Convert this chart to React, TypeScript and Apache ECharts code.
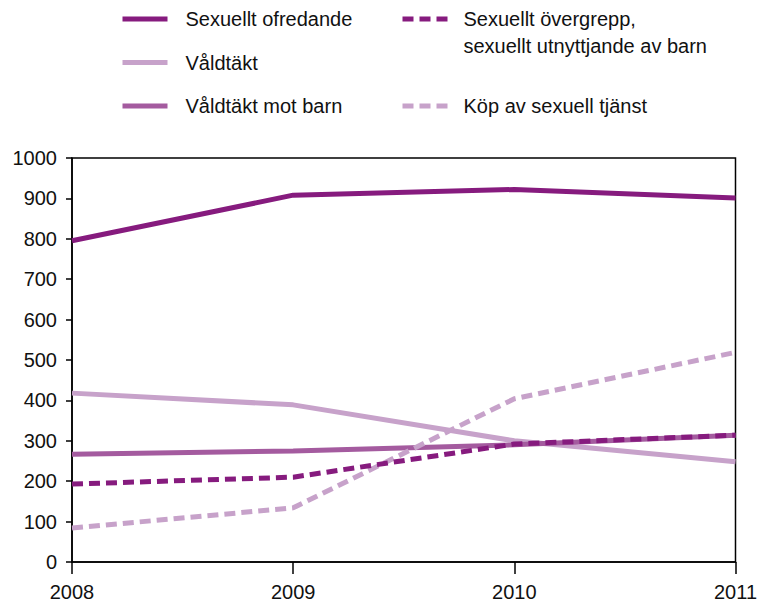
import React, { useEffect, useRef } from "react";
import * as echarts from "echarts";

const years = ["2008", "2009", "2010", "2011"];
const sexuelltOfredande = [795, 908, 922, 901];
const valdtakt = [418, 389, 300, 248];
const valdtaktMotBarn = [267, 275, 290, 314];
const overgrepp = [193, 210, 292, 314];
const kopAvSexuellTjanst = [84, 134, 404, 519];

const yTicks = [0, 100, 200, 300, 400, 500, 600, 700, 800, 900, 1000];

const NAME_OFR = "Sexuellt ofredande";
const NAME_VAL = "Våldtäkt";
const NAME_VMB = "Våldtäkt mot barn";
const NAME_OVG = "Sexuellt övergrepp,\nsexuellt utnyttjande av barn";
const NAME_KOP = "Köp av sexuell tjänst";

const DARK = "#861b7e";
const LIGHT = "#c7a2ca";
const MID = "#a45b9f";
const FONT = "Liberation Sans";

export default function App() {
  const ref = useRef<HTMLDivElement>(null);
  useEffect(() => {
    if (!ref.current) return;
    const chart = echarts.init(ref.current, undefined, { renderer: "svg" });
    const mk = (name: string, data: number[], color: string, dashed: boolean) => ({
      name,
      type: "line",
      data,
      symbol: "none",
      showSymbol: false,
      color,
      lineStyle: { color, width: 5, type: dashed ? [11, 6] : "solid", cap: "butt" },
    });
    const legendBase = {
      orient: "vertical",
      itemWidth: 45,
      itemHeight: 14,
      padding: 0,
      selectedMode: false,
      itemStyle: { opacity: 0, borderWidth: 0 },
      lineStyle: { width: 5 },
    };
    chart.setOption({
      animation: false,
      backgroundColor: "#fff",
      textStyle: { fontFamily: FONT },
      grid: {
        left: 72,
        right: 23,
        top: 158,
        bottom: 41,
        containLabel: false,
        show: true,
        borderColor: "#000",
        borderWidth: 1.5,
      },
      legend: [
        {
          ...legendBase,
          left: 120,
          top: 9,
          itemGap: 23.5,
          data: [NAME_OFR, NAME_VAL, NAME_VMB],
          textStyle: { fontFamily: FONT, fontSize: 20, color: "#111", padding: [0, 0, 0, 13], lineHeight: 20 },
        },
        {
          ...legendBase,
          left: 400,
          top: -21.5,
          data: [NAME_OVG],
          formatter: (name: string) => "\n" + name,
          textStyle: { fontFamily: FONT, fontSize: 20, color: "#111", padding: [0, 0, 0, 11], lineHeight: 27 },
        },
        {
          ...legendBase,
          left: 400,
          top: 96,
          data: [NAME_KOP],
          textStyle: { fontFamily: FONT, fontSize: 20, color: "#111", padding: [0, 0, 0, 11], lineHeight: 20 },
        },
      ],
      xAxis: {
        type: "category",
        data: years,
        boundaryGap: false,
        axisLine: { lineStyle: { color: "#000", width: 1.5 } },
        axisTick: { show: true, inside: false, length: 12, lineStyle: { color: "#000", width: 1.5 } },
        axisLabel: { fontFamily: FONT, fontSize: 20, color: "#111", margin: 20, showMaxLabel: true, showMinLabel: true },
        splitLine: { show: false },
      },
      yAxis: {
        type: "value",
        min: yTicks[0],
        max: yTicks[yTicks.length - 1],
        interval: 100,
        axisLine: { show: true, lineStyle: { color: "#000", width: 1.5 } },
        axisTick: { show: true, inside: false, length: 6, lineStyle: { color: "#000", width: 1.5 } },
        axisLabel: { fontFamily: FONT, fontSize: 20, color: "#111", margin: 15, formatter: (v: number) => String(v) },
        splitLine: { show: false },
      },
      series: [
        mk(NAME_OFR, sexuelltOfredande, DARK, false),
        mk(NAME_VAL, valdtakt, LIGHT, false),
        mk(NAME_VMB, valdtaktMotBarn, MID, false),
        mk(NAME_KOP, kopAvSexuellTjanst, LIGHT, true),
        mk(NAME_OVG, overgrepp, DARK, true),
      ],
    });
    return () => chart.dispose();
  }, []);
  return <div ref={ref} style={{ width: 760, height: 603, position: "absolute", left: 0, top: 0 }} />;
}
